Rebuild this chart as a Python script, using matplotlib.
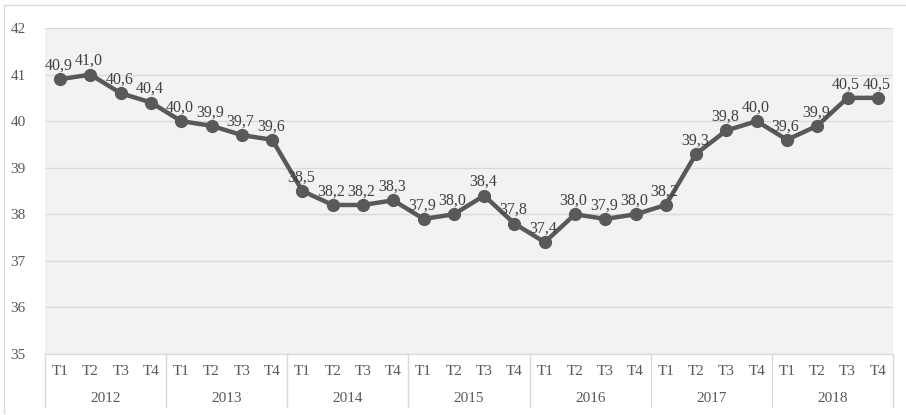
import numpy as np
import matplotlib.pyplot as plt
import matplotlib.transforms as mtransforms

years = ['2012', '2013', '2014', '2015', '2016', '2017', '2018']
quarters = ['T1', 'T2', 'T3', 'T4']
values = [40.9, 41.0, 40.6, 40.4,
          40.0, 39.9, 39.7, 39.6,
          38.5, 38.2, 38.2, 38.3,
          37.9, 38.0, 38.4, 37.8,
          37.4, 38.0, 37.9, 38.0,
          38.2, 39.3, 39.8, 40.0,
          39.6, 39.9, 40.5, 40.5]
yticks = [35, 36, 37, 38, 39, 40, 41, 42]

serif = ['Liberation Serif', 'DejaVu Serif']
grid_c = '#D9D9D9'
text_c = '#595959'

fig = plt.figure(figsize=(9.06, 4.15), dpi=100)
fig.patch.set_facecolor('white')
# outer chart frame (only left and top edges are visible in the crop)
fig.lines.append(plt.Line2D([3.5 / 906, 3.5 / 906, 1.0], [0.005, 1 - 5.5 / 415, 1 - 5.5 / 415],
                            transform=fig.transFigure, color=grid_c, linewidth=1))

ax = fig.add_axes([45 / 906, 1 - 354 / 415, 848 / 906, 326 / 415])
ax.set_facecolor('#F2F2F2')
x = np.arange(len(values))
ax.plot(x, values, color=text_c, linewidth=3.2, marker='o', markersize=8.5, zorder=3)

for xi, v in zip(x, values):
    ax.annotate(('%.1f' % v).replace('.', ','), (xi, v), xytext=(-1, 4),
                textcoords='offset points', ha='center', va='bottom',
                fontsize=11.5, color='#404040', family=serif, zorder=4)

ax.set_xlim(-0.5, len(values) - 0.5)
ax.set_ylim(35, 42)
ax.set_yticks(yticks)
ax.set_yticklabels([str(t) for t in yticks], family=serif, fontsize=11, color=text_c)
ax.tick_params(axis='y', length=0, pad=14)
ax.yaxis.grid(True, color=grid_c, linewidth=1)
ax.set_axisbelow(True)
for s in ax.spines.values():
    s.set_visible(False)
ax.spines['bottom'].set_visible(True)
ax.spines['bottom'].set_color(grid_c)

ax.set_xticks(x)
ax.set_xticklabels(quarters * len(years), family=serif, fontsize=11, color=text_c)
ax.tick_params(axis='x', length=0, pad=8)

trans = mtransforms.blended_transform_factory(ax.transData, ax.transAxes)
bottom_px = 53 / 326
for i, yr in enumerate(years):
    ax.text(i * 4 + 1.5, -44 / 326, yr, transform=trans, ha='center', va='center',
            family=serif, fontsize=11, color=text_c)
for b in range(len(years) + 1):
    ax.plot([b * 4 - 0.5, b * 4 - 0.5], [0, -bottom_px], transform=trans,
            color=grid_c, linewidth=1, clip_on=False)

fig.savefig('out.png', dpi=100)
